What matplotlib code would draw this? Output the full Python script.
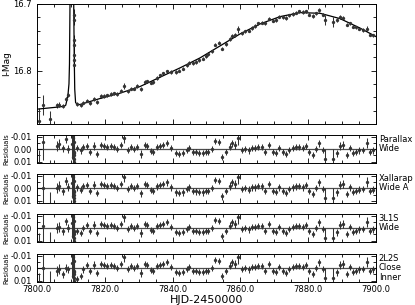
import matplotlib
matplotlib.use("Agg")
import matplotlib.pyplot as plt
from matplotlib.ticker import MultipleLocator, FormatStrFormatter

# observed epochs (HJD-2450000), I magnitudes and errors
t_obs = [7800.7, 7801.9, 7803.8, 7805.8, 7806.6, 7807.8, 7808.6, 7809.1,
         7811.9, 7812.9, 7813.7, 7814.7, 7815.6, 7816.8, 7817.8, 7818.8, 7819.8, 7820.7,
         7821.7, 7822.7, 7823.7, 7824.7, 7825.7, 7826.8, 7827.6, 7828.6, 7829.6, 7830.8,
         7831.8, 7832.5, 7833.5, 7834.3, 7835.3, 7836.3, 7837.3, 7838.3, 7839.4, 7841.0,
         7842.0, 7843.0, 7844.2, 7844.9, 7845.9, 7846.9, 7847.9, 7848.9, 7849.9, 7850.6,
         7851.5, 7852.5, 7853.7, 7854.7, 7855.8, 7856.8, 7857.4, 7858.4, 7859.4, 7860.4,
         7861.4, 7862.4, 7863.3, 7864.3, 7865.3, 7866.3, 7867.3, 7868.5, 7869.5, 7870.5,
         7871.5, 7872.5, 7873.5, 7874.4, 7875.4, 7876.4, 7877.4, 7878.4, 7879.4, 7880.3,
         7881.3, 7882.3, 7883.3, 7884.3, 7885.0, 7887.3, 7888.4, 7889.4, 7890.4, 7891.4,
         7892.4, 7893.3, 7894.1, 7895.1, 7896.1, 7897.3, 7898.2, 7899.0]
mag_obs = [16.876, 16.851, 16.872, 16.852, 16.851, 16.853, 16.842, 16.837,
           16.850, 16.852, 16.848, 16.845, 16.849, 16.842, 16.847, 16.838, 16.838, 16.837,
           16.835, 16.834, 16.835, 16.830, 16.823, 16.831, 16.827, 16.827, 16.823, 16.827,
           16.817, 16.816, 16.818, 16.817, 16.811, 16.807, 16.804, 16.801, 16.802, 16.802,
           16.800, 16.797, 16.792, 16.788, 16.789, 16.787, 16.784, 16.782, 16.778, 16.775,
           16.771, 16.761, 16.758, 16.767, 16.760, 16.753, 16.748, 16.746, 16.738, 16.744,
           16.741, 16.740, 16.736, 16.733, 16.729, 16.728, 16.729, 16.722, 16.725, 16.724,
           16.719, 16.720, 16.721, 16.717, 16.715, 16.713, 16.711, 16.712, 16.711, 16.716,
           16.718, 16.714, 16.709, 16.716, 16.724, 16.727, 16.724, 16.719, 16.721, 16.731,
           16.729, 16.734, 16.735, 16.737, 16.739, 16.737, 16.746, 16.747]
mag_err = [0.020, 0.015, 0.012, 0.004, 0.004, 0.003, 0.003, 0.003,
           0.0025, 0.0025, 0.0025, 0.0025, 0.0025, 0.003, 0.0025, 0.0025, 0.0025, 0.0025,
           0.0025, 0.0025, 0.0025, 0.0025, 0.004, 0.0025, 0.0025, 0.0025, 0.0025, 0.003,
           0.0025, 0.0025, 0.0025, 0.0025, 0.0025, 0.0025, 0.0025, 0.0025, 0.0025, 0.0025,
           0.0025, 0.0025, 0.0025, 0.0025, 0.0025, 0.0025, 0.0025, 0.0025, 0.0025, 0.0025,
           0.0025, 0.0025, 0.0025, 0.0025, 0.0025, 0.003, 0.003, 0.003, 0.005, 0.0025,
           0.0025, 0.0025, 0.0025, 0.0025, 0.0025, 0.0025, 0.0025, 0.0025, 0.0025, 0.0025,
           0.0025, 0.0025, 0.0025, 0.0025, 0.0025, 0.0025, 0.0025, 0.0025, 0.0025, 0.0025,
           0.0025, 0.0025, 0.003, 0.0025, 0.008, 0.008, 0.003, 0.003, 0.003, 0.0025,
           0.0025, 0.0025, 0.0025, 0.0025, 0.0025, 0.004, 0.0025, 0.0025]

# dense coverage of the caustic crossing
t_spike = [7810.45, 7810.62, 7810.75, 7810.87, 7810.88, 7810.92, 7810.93, 7810.96, 7810.97, 7810.99]
mag_spike = [16.46, 16.56, 16.64, 16.716, 16.724, 16.754, 16.761, 16.776, 16.784, 16.791]
err_spike = [0.012, 0.010, 0.010, 0.008, 0.008, 0.008, 0.008, 0.008, 0.008, 0.008]
resid_spike = [-0.004, 0.006, -0.009, 0.003, 0.010, -0.012, 0.002, -0.006, 0.005, 0.008]

# best model light curve
model_t = [7800.0, 7806.8, 7808.0, 7808.5, 7808.9, 7809.2, 7809.45, 7809.6, 7809.75,
           7810.0, 7810.3, 7810.6, 7810.85, 7811.0, 7811.15, 7811.4, 7811.9, 7812.7,
           7818.6, 7824.5, 7830.4, 7836.3, 7842.2, 7848.1, 7854.0, 7859.9, 7865.8,
           7871.7, 7877.6, 7883.5, 7889.4, 7895.2, 7900.0]
model_mag = [16.858, 16.8545, 16.8535, 16.852, 16.843, 16.834, 16.820, 16.790, 16.700,
             16.55, 16.45, 16.58, 16.70, 16.78, 16.828, 16.848, 16.851, 16.851,
             16.842, 16.834, 16.824, 16.810, 16.796, 16.781, 16.763, 16.745, 16.730,
             16.719, 16.713, 16.714, 16.722, 16.736, 16.749]

# residuals (data - model), same for all models after the first 11 epochs
resid_common = [0.0206, -0.006, 0.021, -0.0026, -0.004, -0.0007, -0.008, 0.000,
                -0.0007, 0.001, -0.002, -0.0026, 0.002, -0.0026, 0.004, -0.0036, -0.0026, -0.002,
                -0.0026, -0.002, 0.000, -0.0034, -0.0087, 0.0006, -0.002, 0.000, -0.002, 0.004,
                -0.0034, -0.0026, 0.0012, 0.002, -0.0015, -0.0026, -0.0034, -0.0047, -0.0007, 0.0033,
                0.004, 0.0033, 0.0006, -0.0007, 0.002, 0.0025, 0.003, 0.0033, 0.002, 0.002,
                0.000, -0.0068, -0.006, 0.0065, 0.002, -0.002, -0.0047, -0.0034, -0.0087, 0.0006,
                0.000, 0.001, -0.0007, -0.0007, -0.002, -0.0015, 0.002, -0.0034, 0.002, 0.003,
                -0.0007, 0.002, 0.004, 0.0006, -0.0007, -0.0015, -0.002, -0.0007, -0.0026, 0.002,
                0.0046, 0.000, -0.0047, 0.0006, 0.008, 0.008, 0.0033, -0.0026, -0.0034, 0.0046,
                -0.0007, 0.003, 0.002, 0.001, 0.0006, -0.005, 0.002, 0.001]
early_xallarap = [0.0306, 0.000, 0.015, 0.000, -0.0015, 0.0025, -0.006, -0.001, -0.0007, 0.001, -0.002]
early_3l1s = [0.024, -0.002, 0.015, 0.000, -0.001, 0.0025, -0.0055, 0.000, 0.002, 0.004, 0.000]
early_2l2s = [0.024, 0.000, 0.0145, 0.0025, 0.001, 0.005, 0.000, 0.001, 0.009, 0.006, 0.001]

model_names = ["Parallax\nWide", "Xallarap\nWide A", "3L1S\nWide", "2L2S\nClose\nInner"]


def style_axis(ax):
    ax.tick_params(which="both", direction="in", top=True, right=True, labelsize=6, width=0.6)
    ax.tick_params(which="major", length=3.5)
    ax.tick_params(which="minor", length=2)
    ax.xaxis.set_major_locator(MultipleLocator(20))
    ax.xaxis.set_minor_locator(MultipleLocator(5))
    for s in ax.spines.values():
        s.set_linewidth(0.7)


def main():
    fig = plt.figure(figsize=(4.15, 3.05), dpi=100)
    left, width = 0.089, 0.817
    eb = dict(fmt="o", color="0.2", ms=2.4, elinewidth=0.75, capsize=0, mew=0)

    ax = fig.add_axes([left, 0.594, width, 0.393])
    ax.errorbar(t_obs, mag_obs, yerr=mag_err, **eb)
    ax.errorbar(t_spike, mag_spike, yerr=err_spike, **eb)
    ax.plot(model_t, model_mag, color="black", lw=0.9)
    ax.set_xlim(7800, 7900)
    ax.set_ylim(16.88, 16.70)
    style_axis(ax)
    ax.yaxis.set_major_locator(MultipleLocator(0.1))
    ax.yaxis.set_minor_locator(MultipleLocator(0.02))
    ax.yaxis.set_major_formatter(FormatStrFormatter("%.1f"))
    ax.tick_params(labelbottom=False)
    ax.set_ylabel("I-Mag", fontsize=6.5, labelpad=2)

    resids = [resid_common,
              early_xallarap + resid_common[11:],
              early_3l1s + resid_common[11:],
              early_2l2s + resid_common[11:]]
    bottoms = [0.464, 0.336, 0.205, 0.074]
    for i, name in enumerate(model_names):
        rx = fig.add_axes([left, bottoms[i], width, 0.0934])
        rx.axhline(0, color="0.3", lw=0.9, zorder=1)
        rx.errorbar(t_obs, resids[i], yerr=mag_err, **eb)
        rx.errorbar(t_spike, resid_spike, yerr=err_spike, **eb)
        rx.set_xlim(7800, 7900)
        rx.set_ylim(0.0114, -0.0114)
        style_axis(rx)
        rx.yaxis.set_major_locator(MultipleLocator(0.01))
        rx.yaxis.set_minor_locator(MultipleLocator(0.005))
        rx.yaxis.set_major_formatter(FormatStrFormatter("%.2f"))
        rx.set_ylabel("Residuals", fontsize=4.8, labelpad=1)
        rx.text(1.008, 1.0, name, transform=rx.transAxes, fontsize=6,
                va="top", ha="left", linespacing=1.05)
        if i < 3:
            rx.tick_params(labelbottom=False)
        else:
            rx.xaxis.set_major_formatter(FormatStrFormatter("%.1f"))
            rx.tick_params(axis="x", pad=1.5)
            rx.set_xlabel("HJD-2450000", fontsize=8, labelpad=1)

    plt.savefig("out.png", dpi=100)


if __name__ == "__main__":
    main()
